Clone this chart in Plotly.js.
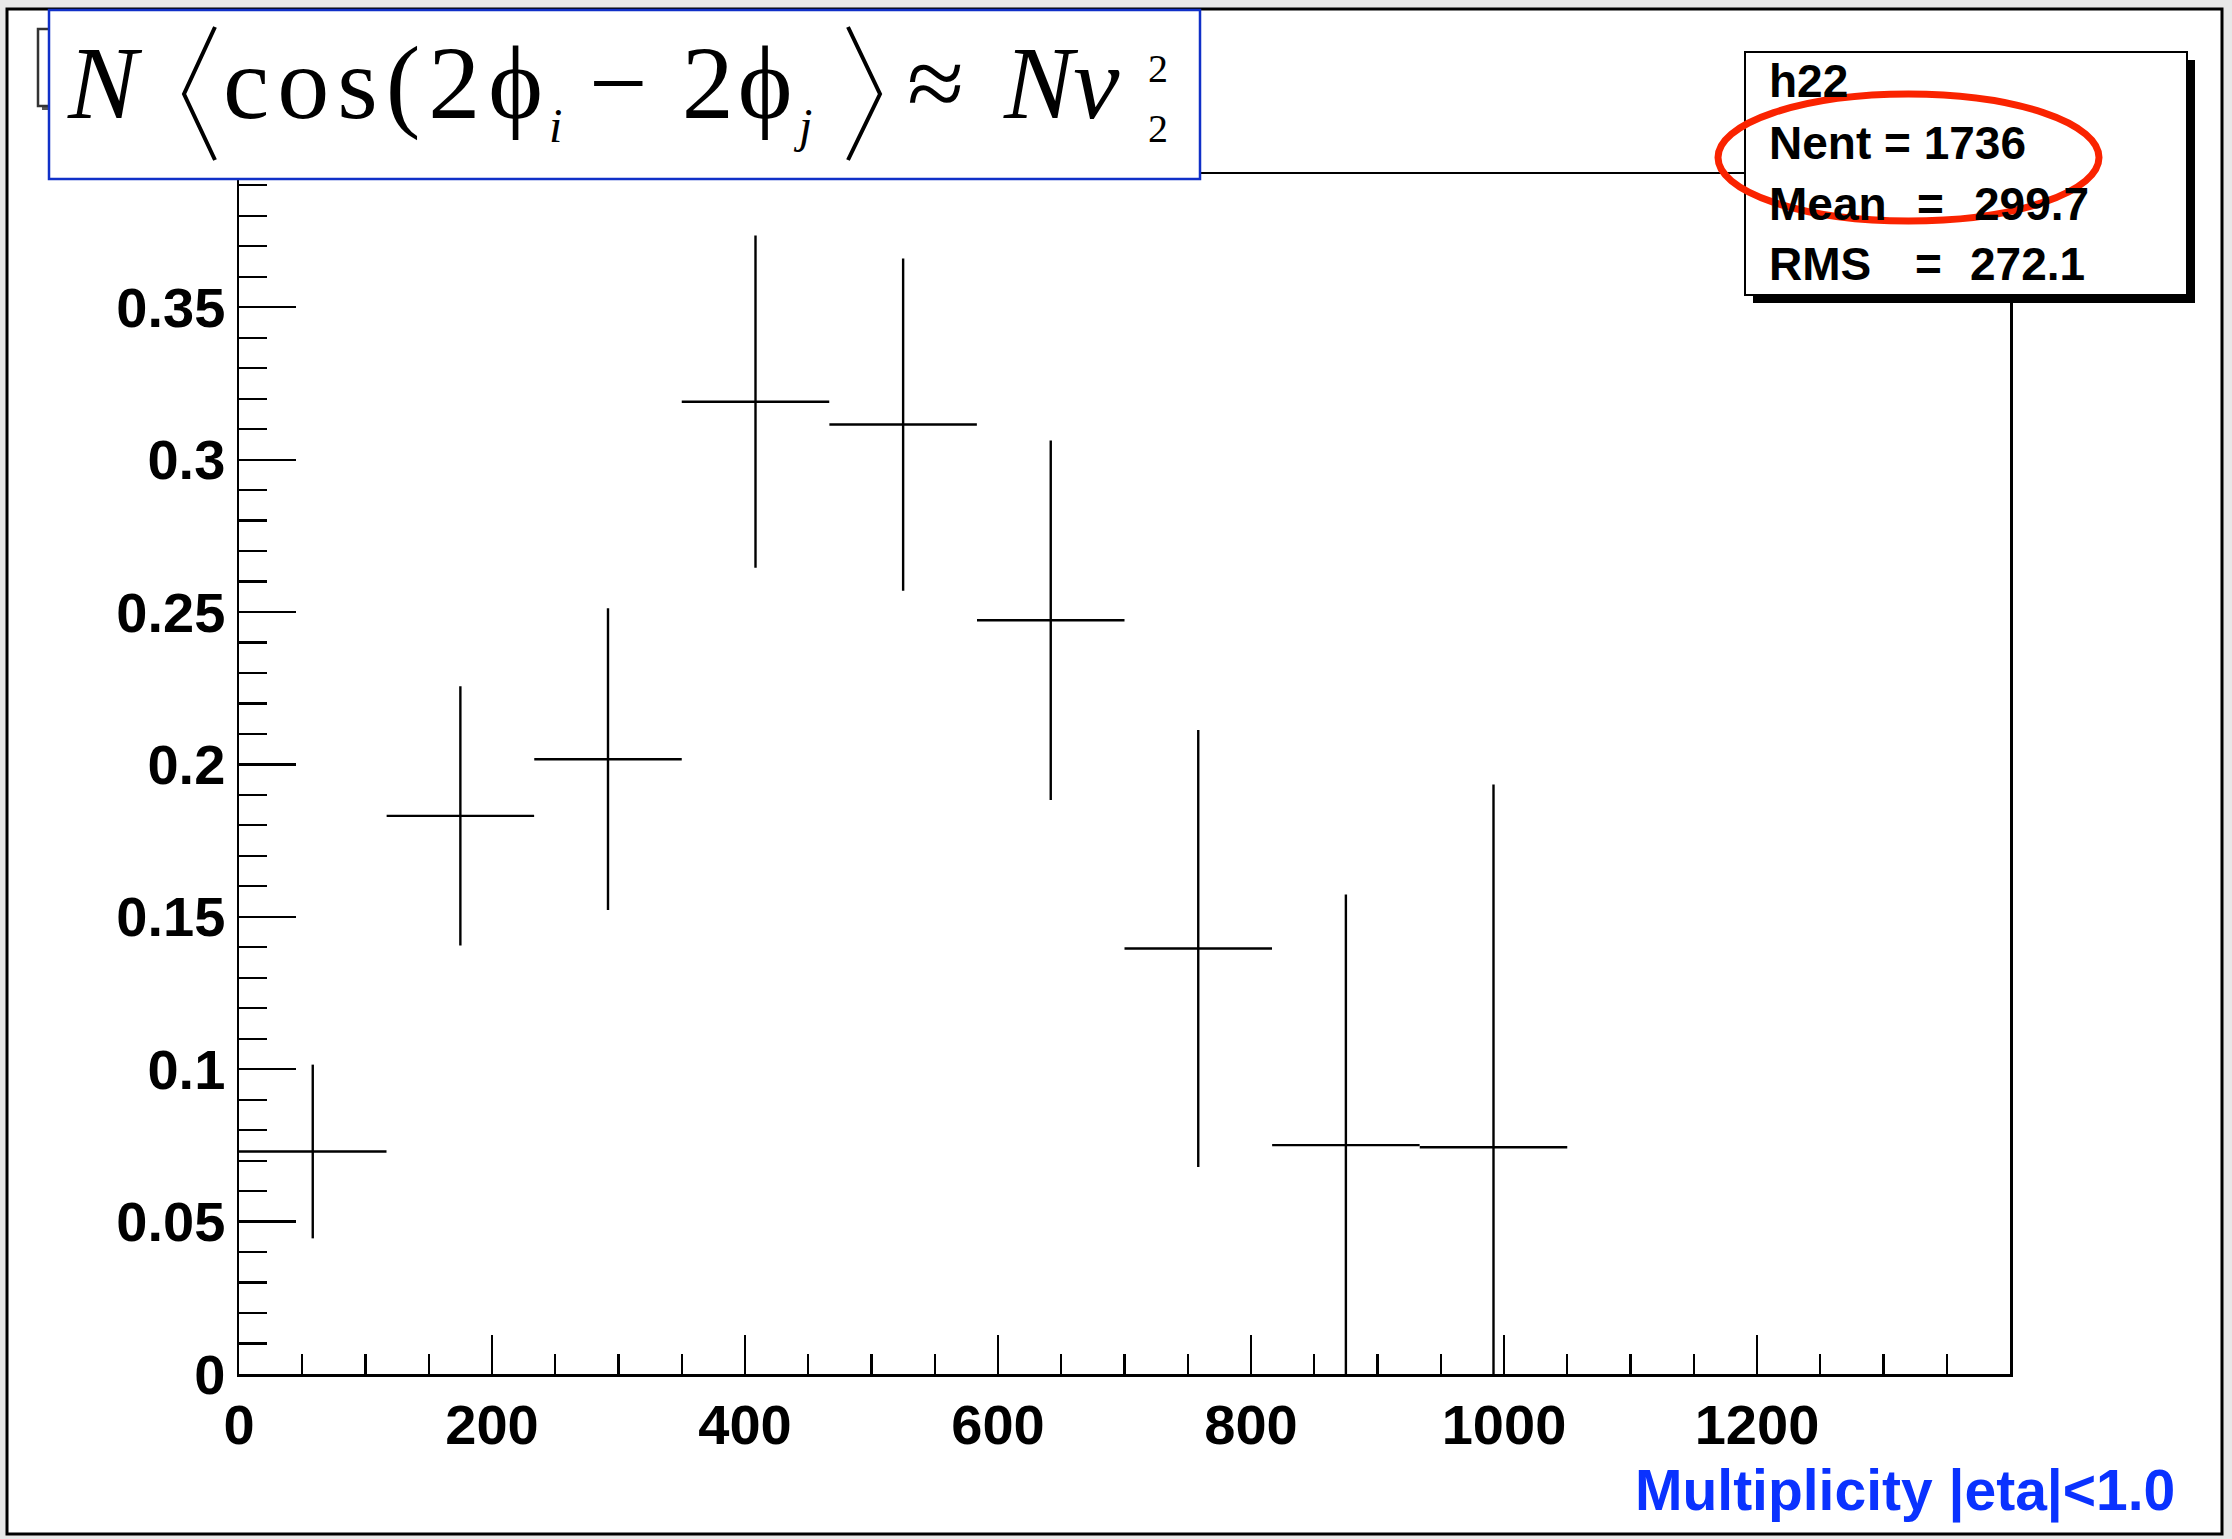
<!DOCTYPE html>
<html><head><meta charset="utf-8">
<script src="https://cdn.plot.ly/plotly-3.0.1.min.js"></script>
<style>html,body{margin:0;padding:0;background:#e8e8e8}#chart{width:2232px;height:1539px}</style>
</head><body><div id="chart"></div>
<script>
// ---- data ----
const binCenters = [58.3, 175.0, 291.7, 408.3, 525.0, 641.7, 758.3, 875.0, 991.7];
const binHalfWidths = [58.3, 58.3, 58.3, 58.3, 58.3, 58.3, 58.3, 58.3, 58.3];
const values = [0.0730, 0.1831, 0.2017, 0.3190, 0.3115, 0.2473, 0.1396, 0.0751, 0.0744];
const errors = [0.0285, 0.0425, 0.0495, 0.0545, 0.0545, 0.0590, 0.0717, 0.0822, 0.1190];
const xTickVals = [0, 200, 400, 600, 800, 1000, 1200];
const xTickText = ['0', '200', '400', '600', '800', '1000', '1200'];
const statsName = 'h22';
const statsLabels = ['Nent', 'Mean', 'RMS'];
const statsValues = ['1736', '299.7', '272.1'];
const xTitle = 'Multiplicity |eta|<1.0';

// ---- layout geometry (pixels) ----
const W = 2232, Hh = 1539;
const L = 239, R = 2010, T = 174, B = 1374;
const PW = R - L, PH = B - T;
const X = px => (px - L) / PW;
const Y = py => (B - py) / PH;

const sans = 'Liberation Sans, Arial, sans-serif';
const serif = 'Liberation Serif, Times New Roman, serif';

const trace = {
  x: binCenters, y: values, type: 'scatter', mode: 'markers',
  marker: {size: 1, color: 'black'},
  error_y: {type: 'data', array: errors, visible: true, color: 'black', thickness: 2.4, width: 0},
  error_x: {type: 'data', array: binHalfWidths, visible: true, color: 'black', thickness: 2.4, width: 0},
  hoverinfo: 'none', showlegend: false
};

function pathPx(pts) {
  return pts.map((p, i) => (i ? 'L' : 'M') + X(p[0]) + ',' + Y(p[1])).join(' ');
}

const shapes = [
  // canvas frame
  {type: 'rect', xref: 'paper', yref: 'paper', x0: X(7), x1: X(2222), y0: Y(9), y1: Y(1534),
   fillcolor: 'white', line: {color: 'black', width: 3}, layer: 'below'},
  // ROOT title pave (mostly hidden)
  {type: 'rect', xref: 'paper', yref: 'paper', x0: X(42), x1: X(300), y0: Y(33), y1: Y(110),
   fillcolor: '#555', line: {width: 0}, layer: 'above'},
  {type: 'rect', xref: 'paper', yref: 'paper', x0: X(38), x1: X(296), y0: Y(29), y1: Y(106),
   fillcolor: 'white', line: {color: '#333', width: 2.5}, layer: 'above'},
  // blue formula box
  {type: 'rect', xref: 'paper', yref: 'paper', x0: X(49), x1: X(1200), y0: Y(10), y1: Y(179),
   fillcolor: 'white', line: {color: '#1030c8', width: 2.5}, layer: 'above'},
  // angle brackets of the formula
  {type: 'path', xref: 'paper', yref: 'paper', path: pathPx([[215, 27], [184, 94], [215, 160]]),
   line: {color: 'black', width: 4}, layer: 'above'},
  {type: 'path', xref: 'paper', yref: 'paper', path: pathPx([[848, 27], [880, 94], [848, 160]]),
   line: {color: 'black', width: 4}, layer: 'above'},
  // stats box shadow + box
  {type: 'rect', xref: 'paper', yref: 'paper', x0: X(1753), x1: X(2195), y0: Y(60), y1: Y(303),
   fillcolor: 'black', line: {width: 0}, layer: 'above'},
  {type: 'rect', xref: 'paper', yref: 'paper', x0: X(1745), x1: X(2187), y0: Y(52), y1: Y(295),
   fillcolor: 'white', line: {color: 'black', width: 2}, layer: 'above'},
  // red ellipse
  {type: 'circle', xref: 'paper', yref: 'paper', x0: X(1718), x1: X(2099), y0: Y(94), y1: Y(221),
   line: {color: 'rgb(250,35,0)', width: 7}, layer: 'above'}
];

const annotations = [];
function ann(text, px, py, opts) {
  annotations.push(Object.assign({
    text: text, xref: 'paper', yref: 'paper', x: X(px), y: Y(py),
    showarrow: false, xanchor: 'left', yanchor: 'middle', borderpad: 0,
    font: {family: sans, size: 46, color: 'black', weight: 'bold'}
  }, opts || {}));
}
// stats text
ann(statsName, 1768, 81);
ann(statsLabels[0] + ' = ' + statsValues[0], 1768, 143);
ann(statsLabels[1], 1768, 204);
ann('=', 1930, 204, {xanchor: 'center'});
ann(statsValues[1], 2090, 204, {xanchor: 'right'});
ann(statsLabels[2], 1768, 264);
ann('=', 1928, 264, {xanchor: 'center'});
ann(statsValues[2], 2086, 264, {xanchor: 'right'});

// formula title: N <cos(2phi_i - 2phi_j> ~ N v_2^2
const big = 104, small = 48, tiny = 40;
const cBig = 118 - 0.3375 * big;
const cSub = 142 - 0.3375 * small;
ann('<i>N</i>', 66, cBig, {font: {family: serif, size: big, color: 'black'}});
ann('<span style="letter-spacing:8px">cos(2</span>ϕ', 222, cBig, {font: {family: serif, size: big, color: 'black'}});
ann('<i>i</i>', 548, cSub, {font: {family: serif, size: small, color: 'black'}});
ann('<span style="letter-spacing:4px">− 2</span>ϕ', 588, cBig, {font: {family: serif, size: big, color: 'black'}});
ann('<i>j</i>', 792, cSub, {font: {family: serif, size: small, color: 'black'}});
ann('≈', 906, cBig, {font: {family: serif, size: big, color: 'black'}});
ann('<i>Nv</i>', 1002, cBig, {font: {family: serif, size: big, color: 'black'}});
ann('2', 1158, 82 - 0.3375 * tiny, {xanchor: 'center', font: {family: serif, size: tiny, color: 'black'}});
ann('2', 1158, 142 - 0.3375 * tiny, {xanchor: 'center', font: {family: serif, size: tiny, color: 'black'}});

// x title
ann(xTitle, 2176, 1490, {xanchor: 'right', font: {family: sans, size: 57, color: 'rgb(10,50,255)', weight: 'bold'}});

const layout = {
  width: W, height: Hh,
  margin: {l: L, r: W - R, t: T, b: Hh - B, pad: 0},
  paper_bgcolor: '#e8e8e8', plot_bgcolor: 'white',
  showlegend: false,
  xaxis: {
    range: [0, 1400], showgrid: false, zeroline: false,
    showline: true, mirror: true, linecolor: 'black', linewidth: 2.5,
    ticks: 'inside', ticklen: 39, tickwidth: 2.2, tickcolor: 'black',
    tickmode: 'array', tickvals: xTickVals, ticktext: xTickText,
    minor: {dtick: 50, tick0: 0, ticks: 'inside', ticklen: 20, tickwidth: 2.2, tickcolor: 'black', showgrid: false},
    tickfont: {family: sans, size: 56, color: 'black', weight: 'bold'},
    ticklabelstandoff: 0
  },
  yaxis: {
    range: [0, 0.3937], showgrid: false, zeroline: false,
    showline: true, mirror: true, linecolor: 'black', linewidth: 2.5,
    ticks: 'inside', ticklen: 57, tickwidth: 2.2, tickcolor: 'black',
    dtick: 0.05, tick0: 0,
    minor: {dtick: 0.01, tick0: 0, ticks: 'inside', ticklen: 28, tickwidth: 2.2, tickcolor: 'black', showgrid: false},
    tickfont: {family: sans, size: 56, color: 'black', weight: 'bold'},
    ticklabelstandoff: 0
  },
  shapes: shapes,
  annotations: annotations
};

Plotly.newPlot('chart', [trace], layout, {displayModeBar: false, staticPlot: true});
</script></body></html>
